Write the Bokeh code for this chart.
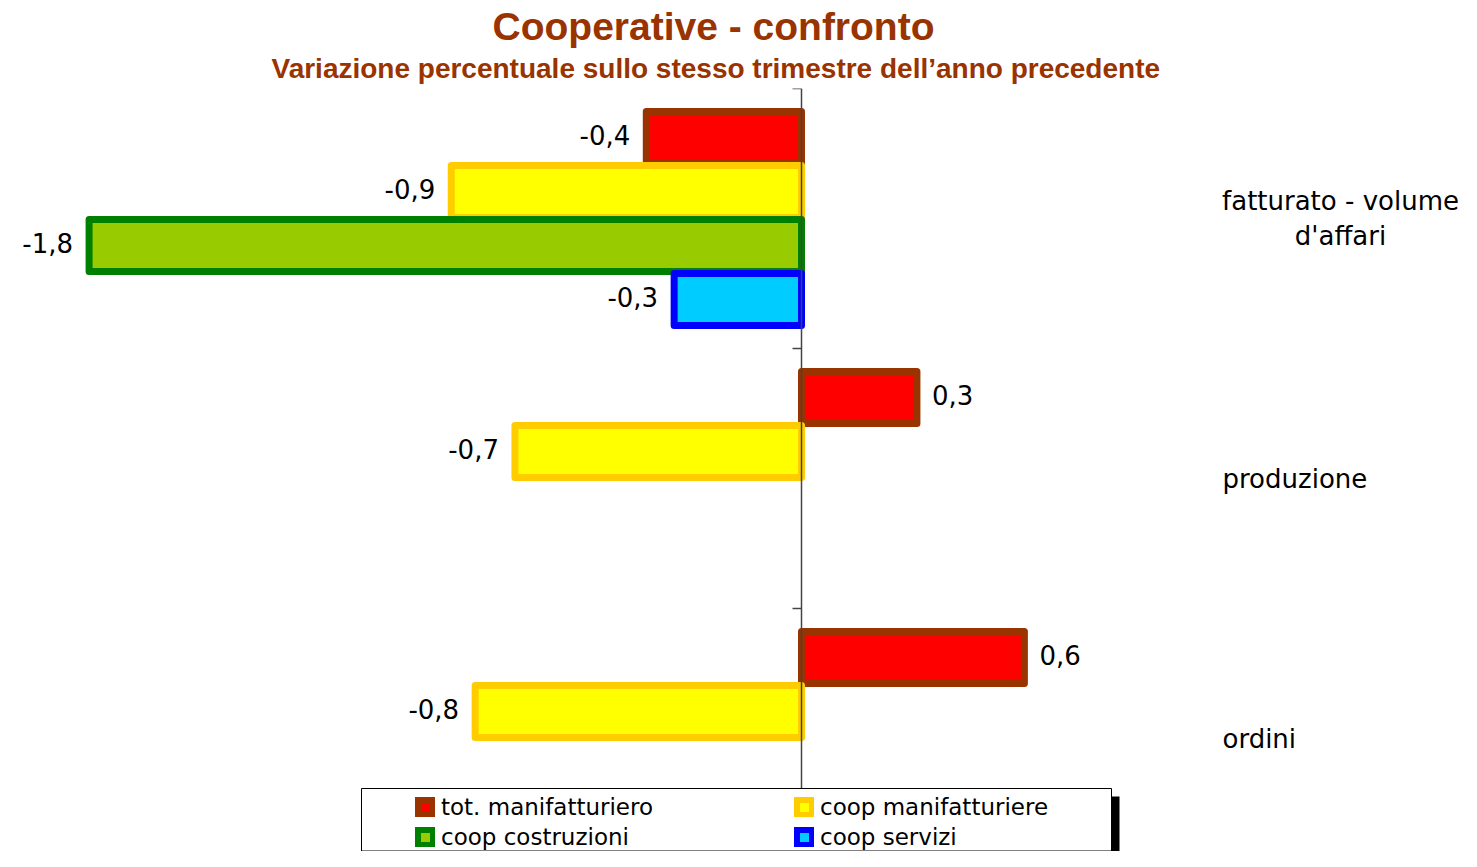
from bokeh.plotting import figure
from bokeh.models import (Range1d, Span, Legend, LegendItem, Title, BoxAnnotation,
                          ColumnDataSource)
from bokeh.core.properties import value
from bokeh.embed import file_html
from bokeh.resources import INLINE

# ---------------- data ----------------
categories = ["fatturato - volume\nd'affari", "produzione", "ordini"]
series_names = ["tot. manifatturiero", "coop manifatturiere", "coop costruzioni", "coop servizi"]
tot_manifatturiero = [-0.39, 0.29, 0.56]
coop_manifatturiere = [-0.88, -0.72, -0.82]
coop_costruzioni = [-1.79, None, None]
coop_servizi = [-0.32, None, None]
series_values = [tot_manifatturiero, coop_manifatturiere, coop_costruzioni, coop_servizi]

fill_colors = ["#FF0000", "#FFFF00", "#99CC00", "#00CCFF"]
line_colors = ["#993300", "#FFCC00", "#008000", "#0000FF"]

title_text = "Cooperative - confronto"
subtitle_text = "Variazione percentuale sullo stesso trimestre dell\u2019anno precedente"

# ---------------- layout ----------------
W, H = 1461, 851
TOP = 88
ZERO_PX = 801          # x of the zero line
PPU = 398.0            # pixels per percentage point
GROUP_PX = 260.0       # pixels per category group
SLOT = 54.0 / GROUP_PX
BAR_H = 52.0 / GROUP_PX
frame_h = H - TOP

x_range = Range1d(-ZERO_PX / PPU, (W - ZERO_PX) / PPU)
y_range = Range1d(frame_h / GROUP_PX, 0)

FONT_NAME = "DejaVu Sans"
FONT = value(FONT_NAME)
TFONT = "Liberation Sans"

p = figure(width=W, height=H, x_range=x_range, y_range=y_range,
           output_backend="svg", toolbar_location=None, title=None,
           x_axis_location=None, y_axis_location=None,
           min_border_left=0, min_border_right=0, min_border_bottom=0,
           min_border_top=TOP, outline_line_color=None,
           background_fill_color="white", border_fill_color="white")
p.grid.visible = False

# titles (subtitle first: nearest the frame)
sub = Title(text=subtitle_text, align="left", offset=271, text_font=TFONT,
            text_font_size="28px", text_font_style="bold", text_color="#993300",
            standoff=9)
main = Title(text=title_text, align="left", offset=492, text_font=TFONT,
             text_font_size="39px", text_font_style="bold", text_color="#993300",
             standoff=-2)
p.add_layout(sub, "above")
p.add_layout(main, "above")

# bars
items = []
for s, (name, vals) in enumerate(zip(series_names, series_values)):
    ys, rights, labels, aligns, offs = [], [], [], [], []
    for g, v in enumerate(vals):
        if v is None:
            continue
        ys.append(g + 0.5 + (s - 1.5) * SLOT)
        rights.append(v)
        labels.append(f"{v:.1f}".replace(".", ","))
        aligns.append("right" if v < 0 else "left")
        offs.append(-16 if v < 0 else 15)
    src = ColumnDataSource(dict(y=ys, right=rights, label=labels, align=aligns, off=offs))
    r = p.hbar(y="y", left=0, right="right", height=BAR_H, source=src,
               fill_color=fill_colors[s], line_color=line_colors[s], line_width=7,
               line_join="round")
    p.text(x="right", y="y", text="label", source=src, text_align="align",
           x_offset="off", y_offset=-3, text_baseline="middle", text_font=FONT,
           text_font_size="26px", text_color="black")
    items.append(LegendItem(label=name, renderers=[r]))

# zero axis with ticks at group boundaries
p.segment(x0=-9 / PPU, x1=0, y0=[0, 1, 2], y1=[0, 1, 2], line_color="#444444", line_width=1.5)
p.add_layout(Span(location=0, dimension="height", line_color="#444444", line_width=1.5))

# category labels on the right
CAT_LEFT = (1222 - ZERO_PX) / PPU
CAT_CENTER = (1340 - ZERO_PX) / PPU
for g, c in enumerate(categories):
    multi = "\n" in c
    p.text(x=[CAT_CENTER if multi else CAT_LEFT], y=[g + 0.5], text=[c],
           text_align="center" if multi else "left", text_baseline="middle",
           text_font=FONT, text_font_size="26px", text_color="black",
           text_line_height=1.15)

# legend box with shadow
p.add_layout(BoxAnnotation(left=369, right=1119, bottom=-8, top=55,
                           left_units="screen", right_units="screen",
                           top_units="screen", bottom_units="screen",
                           fill_color="black", fill_alpha=1, line_color=None))
p.add_layout(BoxAnnotation(left=361, right=1111, bottom=0.5, top=63,
                           left_units="screen", right_units="screen",
                           top_units="screen", bottom_units="screen",
                           fill_color="white", fill_alpha=1, line_color="black",
                           line_width=1, line_alpha=1))

legend = Legend(items=items, orientation="horizontal", ncols=2, location=(415, 1),
                border_line_color=None, background_fill_alpha=0,
                glyph_width=20, glyph_height=20, label_standoff=6, label_width=349,
                spacing=4, padding=4, margin=0,
                label_text_font=FONT_NAME, label_text_font_size="23px",
                label_text_color="black")
p.add_layout(legend, "center")

open("out.html", "w").write(file_html(p, INLINE))
